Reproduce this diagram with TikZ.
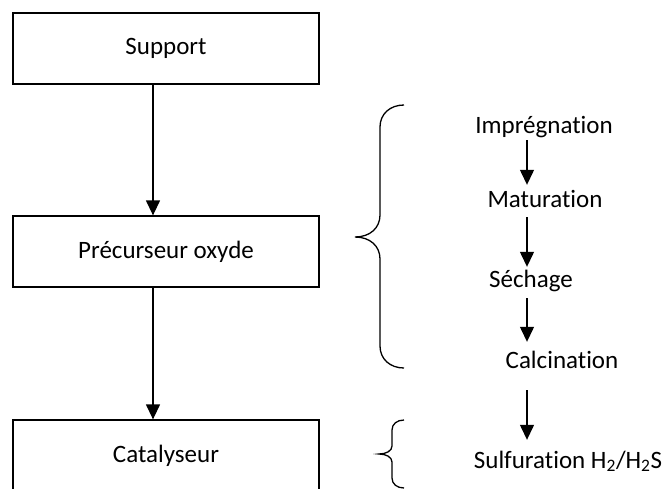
\documentclass[tikz,border=0pt]{standalone}
\usepackage{fontspec}
\setmainfont{Carlito}[Ligatures=NoCommon]
\usetikzlibrary{arrows.meta}

\tikzset{
	boite/.style={draw, line width=1.3pt, minimum width=306pt, minimum height=71pt, inner sep=0pt},
	etape/.style={inner sep=0pt, text height=18pt, text depth=5pt},
	fleche/.style={line width=1.3pt, -{Triangle[length=15pt, width=14pt]}},
	accolade/.style={line width=1.3pt}
}

\begin{document}
\begin{tikzpicture}[x=1pt, y=-1pt, font=\fontsize{25pt}{30pt}\selectfont]
\useasboundingbox (0,0) rectangle (666,488);
\clip (0,0) rectangle (666,488);

%boxes
	\node[boite] (support) at (166, 48.5) {Support};
	\node[boite] (precurseur) at (166, 251.5) {Précurseur oxyde};
	\node[boite] (catalyseur) at (166, 455.5) {Catalyseur};

	\draw[fleche] ([xshift=-13pt]support.south) -- ([xshift=-13pt]precurseur.north);
	\draw[fleche] ([xshift=-13pt]precurseur.south) -- ([xshift=-13pt]catalyseur.north);

%steps
	\coordinate (col) at (527, 0);
	\foreach \x/\y/\name/\txt in {544/133/impregnation/Imprégnation, 545/207/maturation/Maturation,
		531/287/sechage/Séchage, 562/368/calcination/Calcination,
		568/468/sulfuration/{Sulfuration H\textsubscript{2}/H\textsubscript{2}S}} {
		\node[etape, anchor=base] (\name) at (\x, \y) {\txt};
	}

	\foreach \a/\b/\s/\t in {impregnation/maturation/2/4, maturation/sechage/5/2,
		sechage/calcination/6/8, calcination/sulfuration/17/10} {
		\draw[fleche, shorten <=\s pt, shorten >=\t pt] (\a.south -| col) -- (\b.north -| col);
	}

%braces
	\draw[accolade] (404,105) .. controls (390,105) and (380,114) .. (380,127) -- (380,215)
		.. controls (380,228) and (370,237) .. (355,237) .. controls (370,237) and (380,246) .. (380,259)
		-- (380,346) .. controls (380,359) and (390,368) .. (404,368);
	\draw[accolade] (404,420) .. controls (397,420) and (392,424) .. (392,430) -- (392,446)
		.. controls (392,451) and (386,454) .. (379,454) .. controls (386,454) and (392,457) .. (392,462)
		-- (392,478) .. controls (392,484) and (397,488) .. (404,488);

\end{tikzpicture}
\end{document}
